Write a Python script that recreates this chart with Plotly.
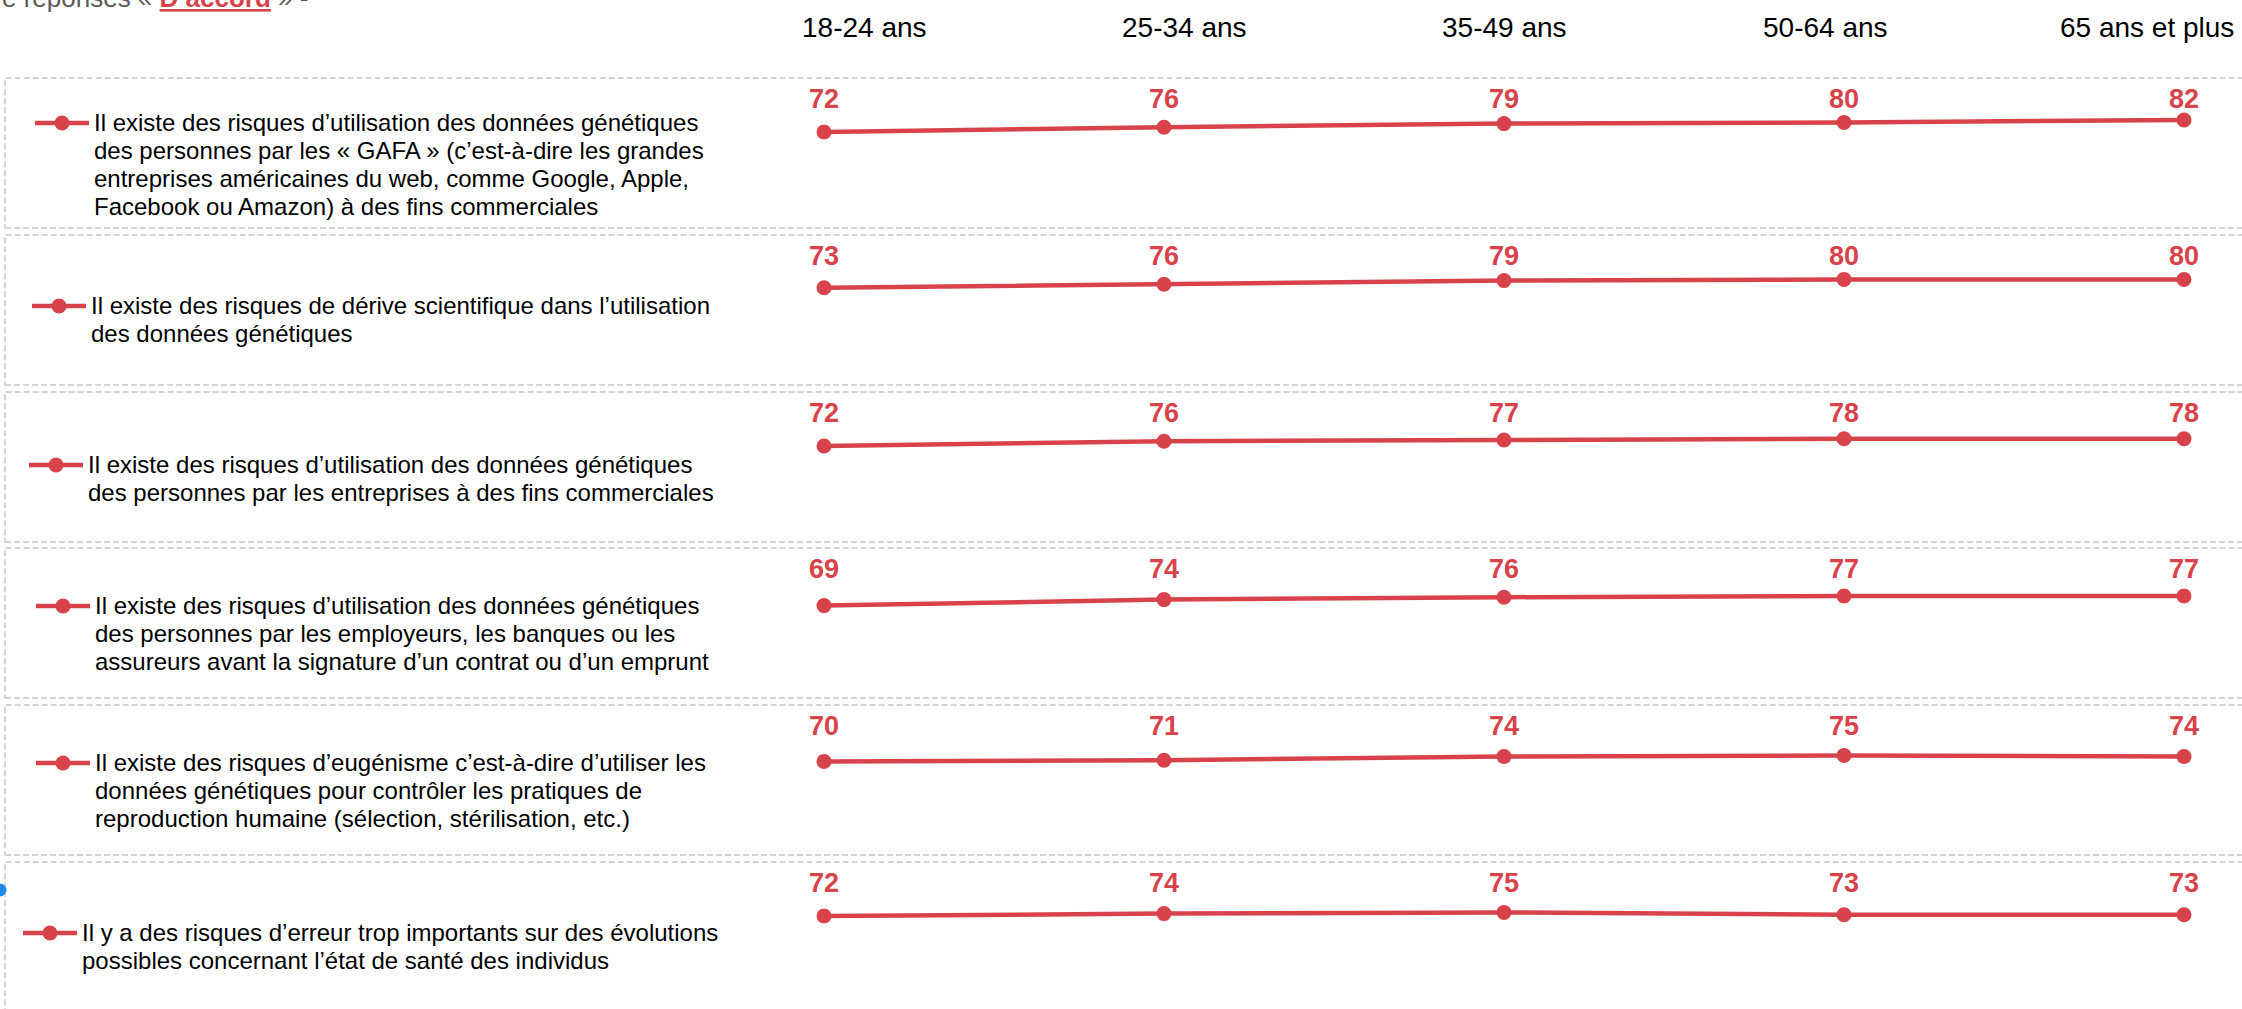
import plotly.graph_objects as go

# ---------------- data ----------------
age_groups = ["18-24 ans", "25-34 ans", "35-49 ans", "50-64 ans", "65 ans et plus"]

statements = [
    "Il existe des risques d’utilisation des données génétiques<br>des personnes par les « GAFA » (c’est-à-dire les grandes<br>entreprises américaines du web, comme Google, Apple,<br>Facebook ou Amazon) à des fins commerciales",
    "Il existe des risques de dérive scientifique dans l’utilisation<br>des données génétiques",
    "Il existe des risques d’utilisation des données génétiques<br>des personnes par les entreprises à des fins commerciales",
    "Il existe des risques d’utilisation des données génétiques<br>des personnes par les employeurs, les banques ou les<br>assureurs avant la signature d’un contrat ou d’un emprunt",
    "Il existe des risques d’eugénisme c’est-à-dire d’utiliser les<br>données génétiques pour contrôler les pratiques de<br>reproduction humaine (sélection, stérilisation, etc.)",
    "Il y a des risques d’erreur trop importants sur des évolutions<br>possibles concernant l’état de santé des individus",
]

gafa = [72, 76, 79, 80, 82]
derive_scientifique = [73, 76, 79, 80, 80]
entreprises = [72, 76, 77, 78, 78]
employeurs_banques = [69, 74, 76, 77, 77]
eugenisme = [70, 71, 74, 75, 74]
erreur_sante = [72, 74, 75, 73, 73]
series = [gafa, derive_scientifique, entreprises, employeurs_banques, eugenisme, erreur_sante]

# ---------------- layout constants (pixels) ----------------
W, H = 2242, 1009
RED = "#d8434b"
FONT = "Arial, 'Liberation Sans', sans-serif"

row_top_px = [78, 235, 392, 548, 705, 862]
row_h_px = 150
point_x0_px, point_step_px = 824, 340
px_per_unit = 1.2
ref_val, ref_offset_px = 72, 54
label_offset_px = 23

legend_line_x_px = [35, 32, 29, 36, 36, 23]
legend_sym_y_px = [123, 306, 465, 606, 763, 933]
legend_item_w = 54
legend_glyph_px = 24
legend_line_h = 27.8
header_x_px = [864, 1184, 1504, 1825, 2147]
header_y_px = 27

x_lo = -point_x0_px / point_step_px
x_hi = (W - point_x0_px) / point_step_px

fig = go.Figure()
layout = dict(
    width=W, height=H, margin=dict(l=0, r=0, t=0, b=0),
    paper_bgcolor="white", plot_bgcolor="rgba(0,0,0,0)",
    font=dict(family=FONT, color="black"),
    hovermode=False,
)
shapes = []
annotations = []

for k, vals in enumerate(series):
    sfx = "" if k == 0 else str(k + 1)
    xa, ya = "x" + sfx, "y" + sfx
    leg = "legend" + sfx
    top = row_top_px[k]
    bottom = min(top + row_h_px, H)
    y_top = ref_val + ref_offset_px / px_per_unit
    y_bot = y_top - (bottom - top) / px_per_unit
    label_level = y_top - label_offset_px / px_per_unit

    name = "<br>".join(
        f"<span style='font-size:{legend_glyph_px}px'>{ln}</span>"
        for ln in statements[k].split("<br>")
    )

    fig.add_trace(go.Scatter(
        x=age_groups, y=vals, mode="lines+markers", name=name,
        line=dict(color=RED, width=4.5), marker=dict(size=15, color=RED),
        xaxis=xa, yaxis=ya, legend=leg, hoverinfo="skip",
    ))
    fig.add_trace(go.Scatter(
        x=age_groups, y=[label_level] * len(vals), mode="text",
        text=[str(v) for v in vals], textposition="middle center",
        textfont=dict(size=27, color=RED, family=FONT, weight="bold"),
        xaxis=xa, yaxis=ya, showlegend=False, hoverinfo="skip",
    ))

    layout["xaxis" + sfx] = dict(domain=[0, 1], range=[x_lo, x_hi], visible=False,
                                 anchor=ya, fixedrange=True)
    layout["yaxis" + sfx] = dict(domain=[1 - bottom / H, 1 - top / H], range=[y_bot, y_top],
                                 visible=False, anchor=xa, fixedrange=True)
    layout[leg] = dict(
        x=(legend_line_x_px[k] - 5) / W, xanchor="left",
        y=1 - (legend_sym_y_px[k] - (6.5 + legend_line_h / 2)) / H, yanchor="top",
        font=dict(size=legend_line_h / 1.3, color="black", family=FONT),
        itemwidth=legend_item_w, valign="top", bgcolor="rgba(0,0,0,0)", borderwidth=0,
    )
    shapes.append(dict(
        type="rect", xref="paper", yref="paper",
        x0=5 / W, x1=1.02, y0=1 - (top + row_h_px) / H, y1=1 - top / H,
        line=dict(color="#d4d4d4", width=2, dash="6px,3px"), fillcolor="rgba(0,0,0,0)",
        layer="below",
    ))

# selection handle artifact at left edge
shapes.append(dict(type="circle", xref="paper", yref="paper",
                   x0=-6.5 / W, x1=6.5 / W, y0=1 - 896.5 / H, y1=1 - 883.5 / H,
                   fillcolor="#1e8ae8", line=dict(width=0)))

for lbl, xp in zip(age_groups, header_x_px):
    annotations.append(dict(
        text=lbl, x=xp / W, y=1 - header_y_px / H, xref="paper", yref="paper",
        xanchor="center", yanchor="middle", showarrow=False,
        font=dict(size=28, color="black", family=FONT),
    ))

annotations.append(dict(
    text="e réponses « <span style='color:" + RED + "'><b><u>D’accord</u></b></span> » -",
    x=0, y=1 - 14.5 / H, xref="paper", yref="paper", xanchor="left", yanchor="bottom",
    showarrow=False, font=dict(size=26, color="#595959", family=FONT),
))

layout["shapes"] = shapes
layout["annotations"] = annotations
fig.update_layout(**layout)

fig.write_html("out.html", config={"displayModeBar": False, "staticPlot": True},
               post_script="document.body.style.margin='0';")
